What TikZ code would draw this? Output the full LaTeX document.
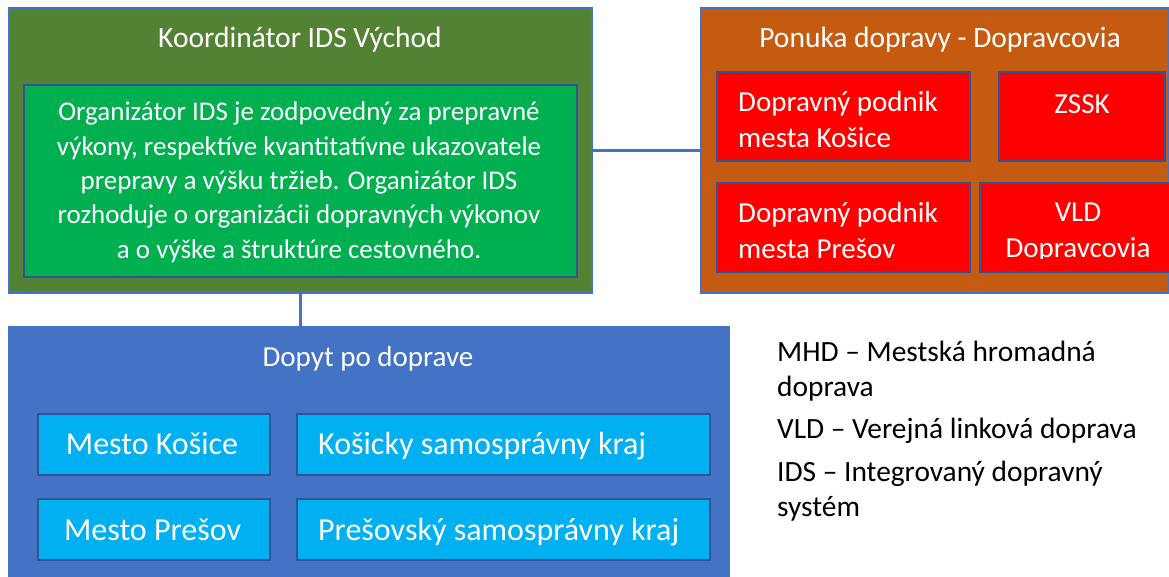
\documentclass[tikz,border=0pt]{standalone}
\usepackage{fontspec}
\setmainfont{Carlito}
\definecolor{ogreen}{HTML}{548235}
\definecolor{igreen}{HTML}{00B050}
\definecolor{oorange}{HTML}{C55A11}
\definecolor{ired}{HTML}{FF0000}
\definecolor{oblue}{HTML}{4472C4}
\definecolor{iblue}{HTML}{00B0F0}
\definecolor{bdark}{HTML}{2F5597}
\definecolor{blight}{HTML}{4472C4}
\begin{document}
\begin{tikzpicture}[x=1pt,y=-1pt,
  outerbox/.style={draw=blight, line width=2pt, inner sep=0pt, anchor=north west},
  innerbox/.style={draw=bdark, line width=2pt, inner sep=0pt, anchor=north west},
  wtext/.style={text=white, inner sep=0pt, font=\fontsize{29}{35.4}\selectfont},
  ttext/.style={text=white, inner sep=0pt, anchor=base, font=\fontsize{29.5}{35.4}\selectfont},
  btext/.style={text=white, inner sep=0pt, font=\fontsize{32}{38}\selectfont},
  ltext/.style={text=black, inner sep=0pt, anchor=base west, font=\fontsize{29.4}{35.4}\selectfont},
  conn/.style={draw=oblue, line width=2.2pt}]
\useasboundingbox (0,0) rectangle (1169,576);
\begin{scope}
\clip (0,0) rectangle (1169,576);
% boxes
\node[outerbox, fill=ogreen, minimum width=583pt, minimum height=285pt] (koord) at (8,7) {};
\node[innerbox, fill=igreen, minimum width=553pt, minimum height=192pt] (org) at (23,84) {};
\node[outerbox, fill=oorange, minimum width=468pt, minimum height=285pt] (ponuka) at (700,7) {};
\node[innerbox, fill=ired, minimum width=253pt, minimum height=89pt] (dpke) at (716,71) {};
\node[innerbox, fill=ired, minimum width=166pt, minimum height=89pt] (zssk) at (998,71) {};
\node[innerbox, fill=ired, minimum width=253pt, minimum height=89pt] (dppo) at (716,182) {};
\node[innerbox, fill=ired, minimum width=220pt, minimum height=89pt] (vld) at (979,182) {};
\node[outerbox, fill=oblue, minimum width=720pt, minimum height=280pt] (dopyt) at (8,326) {};
\node[innerbox, fill=iblue, minimum width=232pt, minimum height=61pt] (mke) at (37,413) {};
\node[innerbox, fill=iblue, minimum width=413pt, minimum height=61pt] (ksk) at (296,413) {};
\node[innerbox, fill=iblue, minimum width=232pt, minimum height=61pt] (mpo) at (37,498) {};
\node[innerbox, fill=iblue, minimum width=413pt, minimum height=61pt] (psk) at (296,498) {};
\end{scope}
% connectors
\draw[conn] (koord.east) -- (ponuka.west);
\draw[conn] (koord.south) -- (koord.south |- dopyt.north);
% texts
\node[ttext] (tkoord) at (300,47.7) {Koordinátor IDS Východ};
\node[wtext, anchor=base, align=center, font=\fontsize{27}{34.3}\selectfont] (torg) at (299,258) {Organizátor IDS je zodpovedný za prepravné\\ výkony, respektíve kvantitatívne ukazovatele\\ prepravy a výšku tržieb. Organizátor IDS\\ rozhoduje o organizácii dopravných výkonov\\ a o výške a štruktúre cestovného.};
\node[ttext] (tponuka) at (940,47.7) {Ponuka dopravy - Dopravcovia};
\node[wtext, anchor=base west, align=left] (tdpke) at (738,147) {Dopravný podnik\\mesta Košice};
\node[wtext, anchor=base] (tzssk) at (1082,113) {ZSSK};
\begin{scope}
\clip (700,180) rectangle (1169,258.5);
\node[wtext, anchor=base west, align=left] (tdppo) at (738,258) {Dopravný podnik\\mesta Prešov};
\node[wtext, anchor=base, align=center] (tvld) at (1078,257) {VLD\\Dopravcovia};
\end{scope}
\node[wtext, anchor=base] (tdopyt) at (368,366) {Dopyt po doprave};
\node[btext, anchor=base] (tmke) at (152,454) {Mesto Košice};
\node[btext, anchor=base west] (tksk) at (318,454) {Košicky samosprávny kraj};
\node[btext, anchor=base] (tmpo) at (152.5,540) {Mesto Prešov};
\node[btext, anchor=base west] (tpsk) at (318,540) {Prešovský samosprávny kraj};
% legend
\node[ltext] (l1) at (777,361.7) {MHD – Mestská hromadná};
\node[ltext] (l2) at (777,396) {doprava};
\node[ltext] (l3) at (777,438) {VLD – Verejná linková doprava};
\node[ltext] (l4) at (777,481) {IDS – Integrovaný dopravný};
\node[ltext] (l5) at (777,516) {systém};
\end{tikzpicture}
\end{document}
